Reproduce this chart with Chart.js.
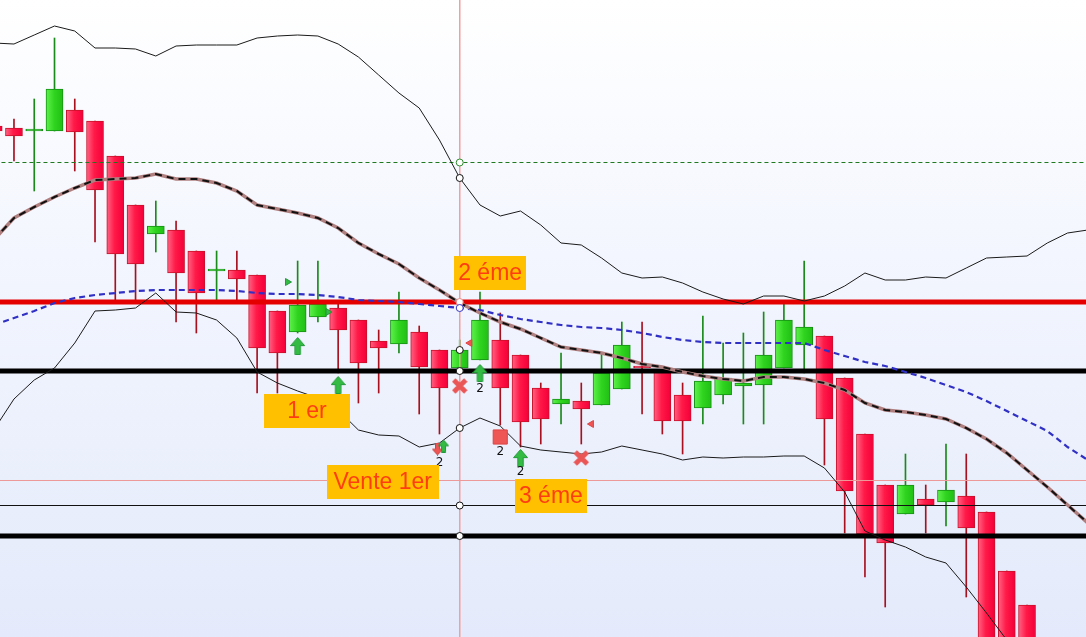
<!DOCTYPE html>
<html>
<head>
<meta charset="utf-8">
<script src="https://cdn.jsdelivr.net/npm/chart.js@4.4.1/dist/chart.umd.min.js"></script>
<style>
  html, body { margin: 0; padding: 0; }
  body {
    width: 1086px; height: 637px; overflow: hidden;
    background: linear-gradient(to bottom, #ffffff 0%, #f3f6fe 40%, #e4eafb 100%);
  }
  canvas { display: block; }
</style>
</head>
<body>
<canvas id="chart" width="1086" height="637"></canvas>
<script>
// candle index -1 is the half-cut one on the left edge
var candleIdx = [];
for (var i = -1; i <= 50; i++) candleIdx.push(i);

var opens  = [57.4,57.2,56.9,56.9,59.0,57.9,54.4,49.5,46.6,47.0,44.9,42.9,43.0,42.5,38.9,36.8,38.3,39.2,38.0,35.9,35.6,36.8,35.0,33.2,34.0,36.0,34.5,31.2,29.6,29.9,29.5,31.1,33.3,32.8,30.5,29.2,30.5,31.4,31.5,33.2,35.5,36.4,32.2,26.6,21.5,18.6,20.1,19.8,20.4,18.8,12.9,9.5];
var highs  = [57.6,58.1,60.1,66.2,60.1,57.9,54.4,49.5,49.9,47.9,44.9,44.9,44.9,42.5,38.9,43.9,43.9,39.8,38.0,37.0,40.8,37.4,35.0,36.0,40.8,38.7,34.5,31.7,34.7,31.7,34.7,37.8,37.8,32.8,31.7,38.4,35.7,36.7,38.8,39.6,43.9,36.4,32.2,26.6,21.5,24.6,21.5,25.6,24.6,18.8,12.9,9.5];
var lows   = [56.7,53.9,50.9,56.9,52.9,45.8,40.0,40.0,44.8,37.8,36.7,40.0,40.0,30.7,30.7,36.7,37.8,32.7,29.7,30.7,34.7,28.6,26.6,33.2,34.0,27.5,25.3,25.6,27.6,25.6,29.5,31.1,28.6,26.6,24.6,27.6,29.6,27.6,27.6,33.2,32.7,23.5,16.7,12.3,9.3,18.6,16.7,17.4,10.3,4.5,2.0,0.0];
var closes = [56.9,56.4,57.1,61.1,56.8,51.0,44.6,43.6,47.4,42.7,40.7,43.1,42.1,35.2,34.7,39.5,39.6,37.0,33.7,35.2,38.0,33.3,31.2,35.0,38.0,31.2,27.8,28.1,30.1,29.1,32.7,35.5,33.2,27.9,27.9,31.9,32.2,31.7,34.5,38.0,37.3,28.1,20.9,16.6,15.7,21.5,19.5,21.0,17.2,5.5,3.0,1.0];

// Bollinger bands and moving average run a few sessions further
var bandIdx = [];
for (var j = -1; j <= 53; j++) bandIdx.push(j);

var upperBand = [65.7,65.6,66.5,67.4,66.9,65.2,65.2,65.1,64.4,65.4,65.5,65.5,65.5,66.2,66.4,66.5,66.4,65.6,64.3,62.5,60.7,59.2,56.0,52.2,49.5,48.4,48.9,47.5,45.7,45.5,44.2,42.7,42.2,42.3,41.7,40.8,40.1,39.6,40.4,40.4,39.9,40.4,41.4,42.7,42.0,42.0,42.3,42.2,43.2,44.2,44.3,44.4,45.7,46.7,47.0];
var midBand   = [46.0,48.2,49.3,50.3,51.2,52.0,52.1,52.2,52.6,52.1,52.1,51.7,50.9,49.5,49.1,48.7,48.2,47.2,45.7,44.6,43.6,42.2,41.0,39.7,38.7,37.8,37.1,36.2,35.3,35.0,34.7,34.2,33.6,33.3,32.8,32.4,32.1,31.9,32.3,32.3,32.1,31.7,31.0,29.7,29.0,28.8,28.5,28.1,27.2,26.1,24.7,23.0,21.3,19.5,17.7];
var lowerBand = [27.0,30.1,32.0,33.2,35.7,38.9,39.0,39.2,40.7,38.8,38.7,38.0,36.2,32.8,31.7,30.9,30.2,29.0,27.0,26.5,26.4,25.3,25.7,27.2,28.2,27.4,25.4,25.0,24.8,24.6,24.8,25.4,25.0,24.6,24.0,24.3,24.2,24.3,24.3,24.4,24.4,23.2,20.8,16.9,16.0,15.3,14.3,13.7,11.3,8.7,6.0,1.6,-3.1,-7.7,-11.6];
var maLine    = [37.5,38.2,38.9,39.7,40.2,40.5,40.7,40.9,41.0,41.0,41.0,41.0,40.9,40.7,40.6,40.6,40.5,40.3,40.0,39.9,39.8,39.6,39.4,39.2,39.0,38.5,38.1,37.8,37.5,37.3,37.2,37.0,36.7,36.3,36.0,35.8,35.7,35.7,35.7,35.7,35.7,35.0,34.4,33.8,33.4,32.8,32.2,31.5,30.8,29.9,28.9,27.9,26.9,25.3,24.0];

// horizontal price levels: green dashed, red, black, pink, thin black, black
var levelPrices = [53.75, 39.8, 32.9, 21.95, 19.45, 16.4];

// cursor session and the values read on it
var cursorIdx = 22;
var cursorPrices = [53.75, 52.2, 39.8, 39.2, 35.0, 32.9, 27.2, 19.45, 16.4];

// signal markers
var bigUpAt = [14, 16, 23, 25];
var bigUpPrice = [35.4, 31.5, 32.7, 24.2];
var smallUpAt = [21.2];
var smallUpPrice = [25.4];
var smallDownAt = [20.9];
var smallDownPrice = [25.1];
var crossAt = [22, 28];
var crossPrice = [31.4, 24.2];
var squareAt = [24];
var squarePrice = [26.3];
var rightTriAt = [13.5, 15.5];
var rightTriPrice = [41.8, 38.8];
var leftTriAt = [22.5, 28.5];
var leftTriPrice = [35.7, 27.6];

// small counters under markers
var countText = ['2', '2', '2', '2'];
var countAt = [23, 21, 24, 25];
var countPrice = [31.1, 23.7, 24.8, 22.8];

// orange notes
var noteText = ['2 éme', '1 er', 'Vente 1er', '3 éme'];
var noteAt = [23.5, 14.46, 18.2, 26.5];
var notePrice = [42.7, 28.9, 21.8, 20.4];

function pts(xs, ys) {
  return xs.map(function (x, k) { return { x: x, y: ys[k] }; });
}

var isUp = closes.map(function (c, k) { return c >= opens[k]; });

var bodyData = candleIdx.map(function (x, k) { return { x: x, y: [opens[k], closes[k]] }; });
var wickData = candleIdx.map(function (x, k) { return { x: x, y: [lows[k], highs[k]] }; });

// marker images
function makeArrow(w, h, fill, stroke, down) {
  var c = document.createElement('canvas');
  c.width = w; c.height = h;
  var g = c.getContext('2d');
  if (down) { g.translate(0, h); g.scale(1, -1); }
  var sw = w * 0.36;
  g.beginPath();
  g.moveTo(w / 2, 0.5);
  g.lineTo(w - 0.5, h * 0.48);
  g.lineTo(w / 2 + sw / 2, h * 0.48);
  g.lineTo(w / 2 + sw / 2, h - 0.5);
  g.lineTo(w / 2 - sw / 2, h - 0.5);
  g.lineTo(w / 2 - sw / 2, h * 0.48);
  g.lineTo(0.5, h * 0.48);
  g.closePath();
  g.fillStyle = fill;
  g.fill();
  g.strokeStyle = stroke;
  g.lineWidth = 1;
  g.stroke();
  return c;
}

function makeCross(s, color) {
  var c = document.createElement('canvas');
  c.width = s; c.height = s;
  var g = c.getContext('2d');
  g.strokeStyle = color;
  g.lineWidth = s * 0.3;
  g.lineCap = 'butt';
  g.beginPath();
  g.moveTo(2, 2); g.lineTo(s - 2, s - 2);
  g.moveTo(s - 2, 2); g.lineTo(2, s - 2);
  g.stroke();
  return c;
}

var bigUpImg = makeArrow(15, 18, '#33bb44', '#22993a', false);
var smallUpImg = makeArrow(11, 13, '#33bb44', '#22993a', false);
var smallDownImg = makeArrow(11, 13, '#ee5555', '#cc4444', true);
var crossImg = makeCross(16, '#ea5555');

function candleFill(c) {
  var k = c.dataIndex;
  var up = isUp[k];
  var chart = c.chart;
  if (!chart.chartArea || !chart.scales.x) return up ? '#2fd41f' : '#ff1f4b';
  var px = chart.scales.x.getPixelForValue(candleIdx[k]);
  var g = chart.ctx.createLinearGradient(px - 8, 0, px + 8, 0);
  if (up) {
    g.addColorStop(0, '#5cf049');
    g.addColorStop(0.5, '#2fd41f');
    g.addColorStop(1, '#22c015');
  } else {
    g.addColorStop(0, '#ff5f80');
    g.addColorStop(0.45, '#ff1a48');
    g.addColorStop(1, '#f5003a');
  }
  return g;
}

var notesPlugin = {
  id: 'notes',
  afterDatasetsDraw: function (chart, args, opts) {
    var ctx = chart.ctx;
    var xs = chart.scales.x, ys = chart.scales.y;
    ctx.save();
    ctx.textAlign = 'center';
    ctx.textBaseline = 'middle';
    // small counters
    ctx.font = '12px "DejaVu Sans", sans-serif';
    ctx.fillStyle = '#111111';
    countText.forEach(function (t, k) {
      ctx.fillText(t, xs.getPixelForValue(countAt[k]), ys.getPixelForValue(countPrice[k]));
    });
    // orange boxes
    ctx.font = '23px "Liberation Sans", Arial, sans-serif';
    noteText.forEach(function (t, k) {
      var cx = xs.getPixelForValue(noteAt[k]);
      var cy = ys.getPixelForValue(notePrice[k]);
      var w = opts.widths[k], h = opts.height;
      ctx.fillStyle = opts.boxColor;
      ctx.fillRect(Math.round(cx - w / 2), Math.round(cy - h / 2), w, h);
      ctx.fillStyle = opts.textColor;
      ctx.fillText(t, cx, cy + 1);
    });
    ctx.restore();
  }
};

var farLeft = -2, farRight = 55;
var levelStyles = [
  { color: '#1f7a1f', width: 1, dash: [4, 3] },
  { color: '#e40000', width: 5, dash: [] },
  { color: '#000000', width: 5, dash: [] },
  { color: '#ee9999', width: 1, dash: [] },
  { color: '#111111', width: 1, dash: [] },
  { color: '#000000', width: 5, dash: [] }
];

var datasets = [];

levelPrices.forEach(function (p, k) {
  var s = levelStyles[k];
  datasets.push({
    type: 'line', data: [{ x: farLeft, y: p }, { x: farRight, y: p }],
    borderColor: s.color, borderWidth: s.width, borderDash: s.dash,
    pointRadius: 0, order: 3
  });
});

// cursor line
datasets.push({
  type: 'line', data: [{ x: cursorIdx, y: 100 }, { x: cursorIdx, y: -50 }],
  borderColor: '#f0a0a0', borderWidth: 1, pointRadius: 0, order: 4
});

datasets.push(
  { type: 'line', data: pts(bandIdx, upperBand), borderColor: '#1a1a1a', borderWidth: 1, pointRadius: 0, order: 2 },
  { type: 'line', data: pts(bandIdx, lowerBand), borderColor: '#1a1a1a', borderWidth: 1, pointRadius: 0, order: 2 },
  { type: 'line', data: pts(bandIdx, midBand), borderColor: '#b08080', borderWidth: 3.5, pointRadius: 0, order: 2 },
  { type: 'line', data: pts(bandIdx, midBand), borderColor: '#111111', borderWidth: 2, borderDash: [7, 5], pointRadius: 0, order: 1.9 },
  { type: 'line', data: pts(bandIdx, maLine), borderColor: '#3030c4', borderWidth: 2.2, borderDash: [6, 4], pointRadius: 0, order: 2 }
);

// candles
datasets.push({
  type: 'bar', data: wickData, grouped: false, barThickness: 1,
  backgroundColor: isUp.map(function (u) { return u ? '#1a8a1a' : '#a8101e'; }),
  borderWidth: 0, order: 6
});
datasets.push({
  type: 'bar', data: bodyData, grouped: false, barThickness: 17,
  backgroundColor: candleFill,
  borderColor: isUp.map(function (u) { return u ? '#149014' : '#c8102a'; }),
  borderWidth: 1, borderSkipped: false, minBarLength: 2, order: 5
});

// cursor read-outs
datasets.push({
  type: 'line', showLine: false, data: cursorPrices.map(function (p) { return { x: cursorIdx, y: p }; }),
  pointStyle: 'circle', pointRadius: 3.5, pointBorderWidth: 1,
  pointBackgroundColor: '#ffffff',
  pointBorderColor: ['#2d8a2d', '#111111', '#e88888', '#3535c8', '#111111', '#111111', '#111111', '#111111', '#111111'],
  order: 0.5
});

// signals
datasets.push(
  { type: 'line', showLine: false, data: pts(bigUpAt, bigUpPrice), pointStyle: bigUpImg, order: 0.5 },
  { type: 'line', showLine: false, data: pts(smallUpAt, smallUpPrice), pointStyle: smallUpImg, order: 0.5 },
  { type: 'line', showLine: false, data: pts(smallDownAt, smallDownPrice), pointStyle: smallDownImg, order: 0.5 },
  { type: 'line', showLine: false, data: pts(crossAt, crossPrice), pointStyle: crossImg, order: 0.5 },
  { type: 'line', showLine: false, data: pts(squareAt, squarePrice), pointStyle: 'rect', pointRadius: 10,
    pointBackgroundColor: '#ee5555', pointBorderColor: '#dd4444', pointBorderWidth: 1, order: 0.5 },
  { type: 'line', showLine: false, data: pts(rightTriAt, rightTriPrice), pointStyle: 'triangle', pointRotation: 90,
    pointRadius: 4, pointBackgroundColor: '#33bb44', pointBorderColor: '#22993a', order: 0.5 },
  { type: 'line', showLine: false, data: pts(leftTriAt, leftTriPrice), pointStyle: 'triangle', pointRotation: -90,
    pointRadius: 4, pointBackgroundColor: '#ee5555', pointBorderColor: '#dd4444', order: 0.5 }
);

var myChart = new Chart(document.getElementById('chart'), {
  type: 'bar',
  data: { datasets: datasets },
  options: {
    responsive: false,
    devicePixelRatio: 1,
    animation: false,
    // keep the plot flush with the canvas edges
    layout: { padding: 0, autoPadding: false },
    plugins: {
      legend: { display: false },
      tooltip: { enabled: false },
      notes: { widths: [72, 86, 112, 72], height: 34, boxColor: '#ffc000', textColor: '#ff3d12' }
    },
    scales: {
      x: { type: 'linear', min: -0.69, max: 52.91, offset: false, display: false, grid: { display: false } },
      y: { type: 'linear', min: 6.3, max: 70, display: false, grid: { display: false } }
    }
  },
  plugins: [notesPlugin]
});
</script>
</body>
</html>
